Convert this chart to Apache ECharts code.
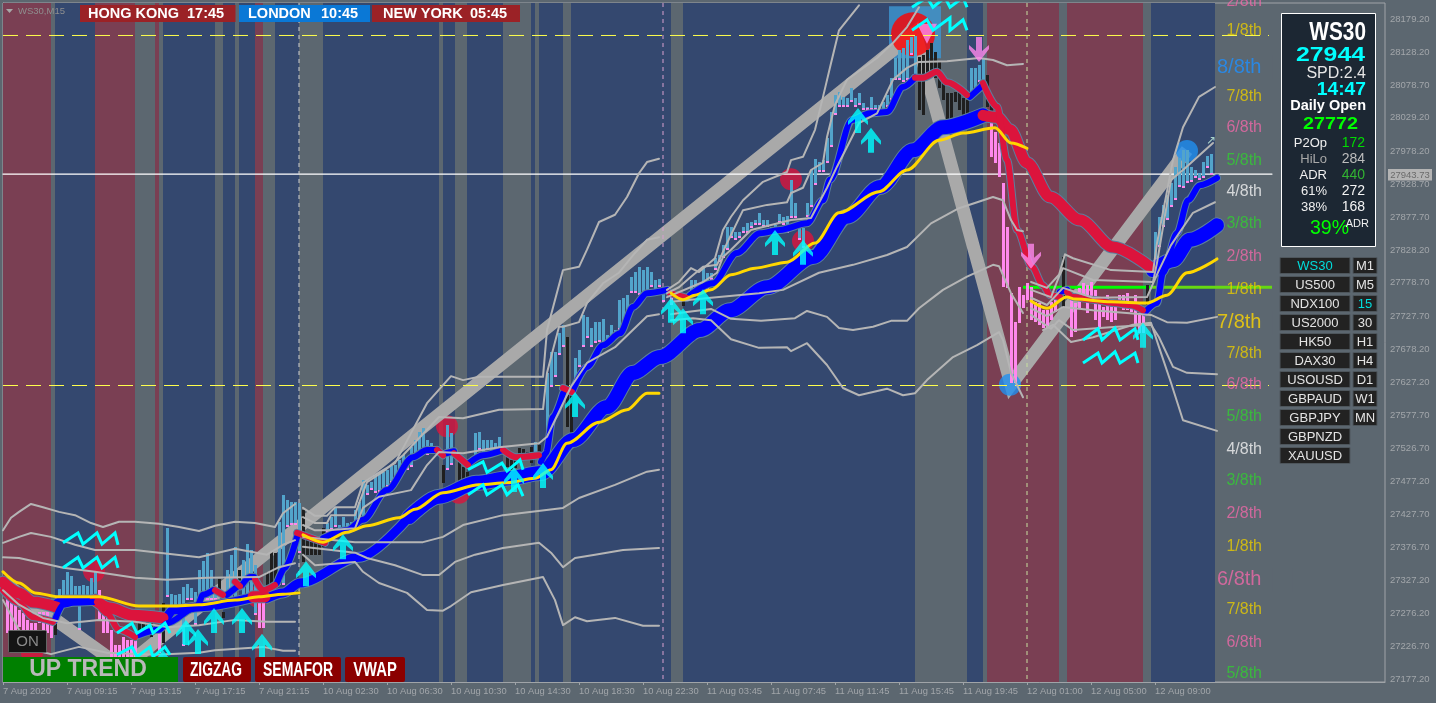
<!DOCTYPE html>
<html><head><meta charset="utf-8">
<style>html,body{margin:0;padding:0;background:#5c6770}#c{width:1436px;height:703px}</style>
<script src="https://cdn.jsdelivr.net/npm/echarts@6/dist/echarts.min.js"></script>
</head><body><div id="c"></div>
<script>
// ---------- axes ----------
const timeLabels = ['7 Aug 2020','7 Aug 09:15','7 Aug 13:15','7 Aug 17:15','7 Aug 21:15','10 Aug 02:30','10 Aug 06:30','10 Aug 10:30','10 Aug 14:30','10 Aug 18:30','10 Aug 22:30','11 Aug 03:45','11 Aug 07:45','11 Aug 11:45','11 Aug 15:45','11 Aug 19:45','12 Aug 01:00','12 Aug 05:00','12 Aug 09:00'];
const timeBars = [0,16,32,48,64,80,96,112,128,144,160,176,192,208,224,240,256,272,288];
const priceTicks = [28179.2,28128.2,28078.7,28029.2,27978.2,27928.7,27877.7,27828.2,27778.7,27727.7,27678.2,27627.2,27577.7,27526.7,27477.2,27427.7,27376.7,27327.2,27276.2,27226.7,27177.2];
const priceTop = 28203.5, priceBottom = 27172.7, lastBar = 345.5, dayEnd = 317.25;
// ---------- session bands: [first bar, last bar] ----------
const navyBands = [[0,303]];
const grayBands = [[12,13],[33,38],[39,40],[53,55],[58,59],[65,68],[74,80],[109,110],[113,116],[125,132],[133,134],[140,142],[167,170],[228,241],[245,246],[264,266],[285,287]];
const maroonBands = [[0,12],[23,33],[38,39],[63,65],[246,264],[266,285]];
const sessionMarks = [74,165,256];
// ---------- price levels ----------
const lastPrice = 27943.73, dailyOpen = 27772, rangeHigh = 28154.2, rangeLow = 27622.8;
// ---------- zigzag ----------
const zigzagLine = [[0,27324],[30,27194],[228,28159],[252,27624],[296,27980]];
// ---------- histogram candles: [bar, top, bottom] ----------
const blueBars = [[14,27314,27300],[15,27328,27300],[16,27340,27300],[17,27334,27300],[18,27318,27300],[19,27318,27252],[20,27320,27300],[21,27318,27300],[22,27331,27300],[23,27341,27300],
[41,27406,27302],[42,27306,27262],[43,27305,27279],[44,27306,27279],[45,27317,27227],[46,27321,27297],[47,27315,27297],[48,27309,27259],[49,27343,27297],[50,27356,27297],[51,27369,27297],[52,27343,27297],[53,27315,27297],[56,27343,27297],[57,27366,27297],[58,27378,27297],[60,27358,27297],[61,27382,27297],[62,27373,27297],[63,27350,27274],
[69,27416,27320],[70,27457,27320],[71,27449,27408],[72,27446,27411],[73,27446,27411],[74,27444,27369],
[81,27414,27399],[82,27423,27403],[83,27437,27408],[84,27411,27403],[85,27423,27400],[86,27414,27400],[87,27416,27403],[88,27434,27403],[89,27446,27414],[90,27479,27419],[91,27472,27457],[92,27476,27464],[93,27487,27460],[94,27490,27461],[95,27492,27464],[96,27495,27469],[97,27501,27475],[98,27502,27479],[99,27510,27487],[100,27517,27490],[101,27514,27495],[102,27529,27499],[103,27540,27510],[104,27552,27514],[105,27558,27520],[106,27540,27517],[107,27535,27525],[108,27529,27522],
[111,27563,27495],[112,27551,27502],[117,27514,27502],[118,27551,27514],[119,27552,27525],[120,27540,27517],[121,27540,27525],[122,27540,27517],[123,27535,27517],[124,27545,27525],[133,27537,27517],
[136,27642,27535],[137,27674,27621],[138,27674,27636],[139,27703,27669],[140,27715,27681],[143,27665,27616],[144,27677,27651],[145,27730,27681],[146,27727,27695],[147,27710,27681],[148,27719,27687],[149,27719,27689],[150,27724,27687],[151,27699,27687],[152,27715,27697],[153,27707,27697],[154,27753,27707],[155,27756,27712],[156,27760,27718],[157,27788,27763],[158,27795,27763],[159,27803,27760],[160,27798,27760],[161,27803,27757],[162,27795,27772],[163,27783,27763],[164,27784,27772],[165,27765,27750],
[172,27783,27763],[173,27783,27768],[175,27803,27772],[176,27794,27768],[177,27794,27783],[178,27816,27798],[179,27821,27810],[180,27836,27816],[181,27863,27829],[182,27863,27847],[183,27856,27844],[184,27856,27847],[185,27863,27854],[186,27869,27854],[187,27871,27862],[188,27874,27866],[189,27885,27866],[190,27874,27863],[191,27874,27863],[192,27863,27856],[193,27866,27859],[194,27883,27869],[195,27879,27866],[196,27880,27854],[197,27935,27877],[198,27900,27877],[199,27866,27844],[200,27862,27832],[201,27900,27879],[202,27950,27894],[203,27967,27927],[204,27962,27947],[205,27965,27947],[206,27999,27961],[207,28038,27985],[208,28064,28033],[209,28068,28046],[210,28061,28046],[211,28059,28046],[212,28074,28053],[213,28059,28046],[214,28067,28049],[215,28052,28041],[216,28046,28041],[217,28061,28041],[218,28049,28041],[219,28049,28038],[220,28053,28038],[221,28064,28046],[222,28090,28056],[223,28120,28087],[224,28132,28087],[225,28135,28084],[226,28147,28087],[227,28152,28125],[228,28153,28091],
[242,28105,28061],[243,28105,28071],[244,28109,28084],[245,28120,28076],
[288,27856,27813],[289,27879,27833],[290,27897,27863],[291,27912,27874],[292,27930,27894],[293,27955,27904],[294,27968,27924],[295,27980,27923],[296,27980,27930],[297,27955,27932],[298,27950,27938],[299,27945,27935],[300,27962,27938],[301,27971,27953],[302,27974,27942]];
const blackBars = [[13,27279,27244],[34,27264,27249],[35,27261,27249],[36,27264,27246],[37,27262,27241],[38,27258,27249],[40,27293,27232],[54,27329,27308],[55,27279,27270],[59,27343,27317],[66,27340,27312],[67,27370,27317],[68,27369,27323],
[75,27434,27355],[76,27399,27366],[77,27385,27366],[78,27384,27366],[79,27384,27366],[80,27406,27378],[110,27502,27475],[114,27507,27475],[115,27499,27475],[116,27492,27475],[126,27514,27499],[127,27510,27495],[128,27510,27497],[129,27528,27510],[130,27527,27517],[131,27522,27513],[132,27529,27505],[134,27532,27505],[141,27696,27560],[142,27621,27548],[170,27756,27744],
[229,28121,28041],[230,28125,28033],[231,28132,28094],[232,28143,28099],[233,28129,28090],[234,28114,28074],[235,28082,28056],[236,28067,28026],[237,28067,28026],[238,28068,28053],[239,28076,28041],[240,28059,28030],[241,28056,28030],[246,28094,28046],[247,28052,28021],[265,27818,27740],[286,27775,27734]];
const pinkBars = [[1,27300,27247],[2,27293,27241],[3,27293,27252],[4,27282,27256],[5,27277,27247],[6,27267,27229],[7,27262,27236],[8,27262,27241],[9,27279,27262],[10,27279,27252],[11,27279,27247],[12,27267,27240],
[24,27312,27267],[25,27282,27247],[26,27277,27247],[27,27252,27199],[28,27229,27199],[29,27229,27199],[30,27241,27199],[31,27236,27199],[32,27236,27199],[33,27236,27199],[39,27247,27217],[64,27293,27255],[65,27293,27255],[167,27759,27745],
[247,28023,27970],[248,28008,27961],[249,27991,27939],[250,27930,27772],[251,27863,27771],[252,27763,27627],[253,27719,27627],[254,27772,27718],[255,27760,27740],[256,27778,27753],[257,27772,27722],[258,27750,27719],[259,27748,27715],[260,27737,27710],[261,27737,27710],[262,27750,27722],[263,27760,27734],
[267,27757,27696],[268,27748,27704],[269,27771,27740],[270,27778,27753],[271,27775,27733],[272,27780,27748],[273,27768,27722],[274,27756,27712],[275,27742,27727],[276,27760,27722],[277,27745,27719],[278,27750,27722],[279,27760,27745],[280,27760,27737],[281,27763,27737],[282,27745,27734],[283,27760,27715],[284,27733,27703],[285,27733,27703]];
// ---------- fast ribbon ----------
const fastBlue = [
[[13,27267],[15,27290],[17.5,27293],[22.5,27294]],
[[34,27244],[39,27252],[41,27262],[48.5,27287],[50,27305],[52.5,27312]],
[[56,27305],[58.5,27317]],[[59.75,27320],[61.75,27332],[62.75,27332]],
[[68.5,27323],[70.5,27346],[73.5,27393]],
[[80,27391],[86,27403],[90,27419],[96,27464],[102.5,27514],[106,27525],[108.5,27525]],
[[110.75,27520],[112.75,27523]],[[116.5,27505],[120,27517],[125,27525]],
[[134.5,27507],[135.75,27520],[137.5,27575],[140,27611]],
[[142.5,27616],[146,27651],[150,27684],[154.25,27702],[157.5,27742],[161,27763],[166,27768]],
[[171.75,27760],[177.5,27778],[183.5,27824],[189.25,27854],[194.25,27859],[201,27869],[205,27904],[206.75,27935],[212.25,28026],[216.75,28036],[221,28038],[225,28076],[228,28090]],
[[241.75,28061],[245,28079]],[[264.25,27765],[266,27768]],
[[285.5,27734],[288.5,27748],[290,27794],[293.5,27854],[296.25,27904],[299.25,27927],[303.5,27938]]];
const fastRed = [
[[0,27312],[4,27293],[7.5,27271],[12.5,27264]],
[[23.5,27294],[26,27277],[29,27252],[33,27241]],
[[53,27312],[55,27305]],[[58,27325],[59.25,27318]],
[[63,27329],[65,27312],[68,27320]],
[[73.5,27399],[80.5,27384]],
[[108.5,27525],[110,27517]],[[112.75,27520],[116.25,27502]],
[[125,27525],[128.25,27514],[134,27517]],[[140,27619],[142.25,27613]],
[[166.75,27763],[171,27756]],
[[228,28090],[230,28090],[233.5,28099],[236,28083],[241,28064]],
[[245,28082],[248.5,28046],[251,27965],[253.5,27859],[257.25,27803],[260,27775],[261.75,27760],[264.25,27757]],
[[266,27765],[267.5,27757],[272.5,27753],[277.5,27748],[281.75,27745],[285,27737]]];
// ---------- slow ribbon ----------
const slowBlueThin = [[[13.5,27292],[15.5,27297],[22.5,27297]],[[41,27271],[42.5,27282],[49.25,27287],[61.75,27300]],
[[66,27300],[70,27308],[74.25,27323],[89,27362],[101.5,27423]]];
const slowBlue = [
[[101.5,27423],[109,27454],[118.25,27475],[126.5,27482],[134.5,27490],[142.5,27540],[151,27590],[157.5,27642],[164.25,27666],[174.25,27707],[181.75,27737],[191,27772],[202.5,27818],[211,27879],[219.25,27924],[227.5,27980],[235,28015],[245,28033]],
[[287.5,27798],[292.5,27813],[296.75,27844],[303.5,27866]]];
const slowRed = [
[[0,27324],[4,27308],[7.5,27294],[13.5,27286]],
[[23,27297],[26.75,27285],[32.5,27274],[40,27270]],
[[62.5,27302],[65.5,27302]],
[[245,28033],[248.5,28030],[251.75,28011],[256,27961],[261.75,27909],[269.25,27874],[277.5,27833],[286.75,27803]]];
// ---------- vwap (yellow) ----------
const vwap = [
[[0,27340],[4,27323],[8,27308],[14,27302],[24,27302],[34,27288],[42,27288],[49,27290],[58,27297],[64,27302],[70,27306],[74,27308]],
[[75,27396],[80,27385],[86,27400],[91,27410],[99,27422],[103,27435],[110,27460],[119,27472],[126,27475],[133,27482],[137,27495],[141,27535],[149,27567],[156,27586],[161,27611],[164,27611]],
[[167,27763],[170,27753],[173,27760],[177,27768],[182,27791],[188,27801],[196,27810],[203,27839],[209,27885],[219,27917],[226,27950],[234,27995],[240,28006],[248,28014],[252,27991],[256,27983]],
[[257,27751],[261,27740],[266,27757],[268,27754],[277,27750],[286,27748],[291,27760],[296,27794],[303.5,27815]]];
// ---------- vwap deviation bands (gray) ----------
const bandLines = [
[[0,27403],[2,27422],[4,27431],[7,27443],[10,27438],[14,27431],[18,27426],[22,27414],[25,27408],[29,27416],[33,27416],[39,27413],[44,27408],[49,27402],[53,27410],[58,27416],[63,27414],[68,27408],[70,27429],[73,27443]],
[[0,27384],[4,27393],[7,27399],[12,27393],[18,27381],[23,27373],[33,27373],[39,27369],[49,27362],[58,27375],[66,27366],[70,27381],[73,27388]],
[[0,27362],[4,27361],[10,27353],[15,27346],[23,27340],[33,27331],[41,27328],[51,27331],[64,27332],[69,27347],[73,27353]],
[[0,27312],[4,27290],[10,27270],[16,27262],[24,27267],[33,27264],[41,27256],[49,27259],[58,27267],[66,27264],[73,27264]],
[[0,27297],[4,27252],[8,27221],[12,27215],[19,27226],[26,27217],[38,27214],[49,27217],[53,27221],[65,27226],[70,27220],[73,27220]],
[[75,27437],[78,27425],[81,27425],[83,27438],[88,27438],[90,27475],[93,27487],[98,27505],[106,27596],[112,27637],[115,27631],[119,27636],[135,27636],[136,27707],[140,27798],[144,27803],[146,27829],[149,27871],[153,27882],[156,27909],[159,27945],[161,27962],[164,27967]],
[[75,27423],[78,27414],[81,27414],[82,27426],[88,27426],[89,27444],[91,27476],[95,27492],[100,27517],[109,27575],[115,27573],[124,27586],[135,27587],[136,27642],[139,27712],[140,27712],[144,27719],[146,27748],[150,27778],[154,27794],[158,27824],[161,27844],[164,27848]],
[[75,27411],[78,27403],[81,27403],[88,27406],[90,27437],[94,27454],[102,27464],[106,27502],[109,27522],[115,27520],[124,27529],[134,27535],[136,27545],[142,27621],[146,27657],[153,27681],[161,27728],[164,27731]],
[[75,27393],[88,27385],[105,27385],[110,27393],[115,27411],[125,27426],[140,27437],[144,27452],[153,27472],[161,27492],[164,27495]],
[[75,27378],[88,27369],[91,27361],[98,27350],[105,27335],[109,27335],[113,27355],[118,27366],[125,27376],[134,27384],[137,27369],[140,27347],[143,27361],[148,27366],[155,27373],[164,27376]],
[[75,27366],[78,27350],[88,27355],[90,27340],[94,27323],[101,27308],[106,27282],[110,27281],[112,27288],[117,27309],[125,27320],[135,27332],[138,27297],[140,27259],[143,27271],[146,27265],[153,27270],[160,27258],[164,27258]],
[[166,27768],[169,27780],[172,27801],[174,27795],[178,27816],[180,27859],[182,27879],[185,27904],[190,27932],[196,27947],[197,27965],[200,27970],[203,28011],[205,28061],[207,28112],[209,28162],[214,28200]],
[[166,27763],[169,27772],[172,27788],[175,27803],[178.5,27806],[181,27839],[185,27889],[191,27897],[196,27901],[197,27915],[200,27923],[202,27950],[205,27961],[206,28000],[208,28049],[211,28087],[218.5,28120],[222.5,28143],[226,28167],[229,28197]],
[[166,27757],[175,27780],[178.5,27794],[180,27818],[182,27829],[187,27859],[197,27874],[202,27877],[206,27923],[208.5,27955],[211,27985],[214,28021],[218.5,28036],[222.5,28087],[226,28105],[229,28114],[236,28115],[244,28120],[247.5,28117],[251,28109],[255,28111]],
[[167,27750],[177,27756],[189,27763],[195,27768],[204,27794],[212.5,27806],[221,27821],[226,27833],[232,27869],[239,27892],[247.5,27909],[250,27904],[252,27874],[253.5,27859],[255,27857]],
[[167,27731],[170.5,27734],[177,27739],[182,27724],[189.5,27721],[198,27725],[201,27736],[206,27727],[209,27710],[212.5,27707],[217.5,27712],[222,27721],[226,27721],[229,27740],[235,27768],[241,27788],[247.5,27806],[249,27804],[252,27763],[255,27733]],
[[167,27722],[172.5,27725],[177,27722],[182,27693],[189,27680],[196,27681],[197,27675],[201,27687],[206,27654],[210,27619],[214,27608],[221,27618],[225,27608],[228,27611],[231,27631],[237.5,27666],[243.5,27684],[249,27704],[250,27692],[252,27642],[255,27605]],
[[257,27780],[261,27771],[264,27791],[265.5,27822],[267.5,27816],[277,27798],[287.5,27795],[288.5,27839],[292.5,27965],[295,28015],[299,28061],[303,28076]],
[[257,27768],[262,27757],[264,27788],[265,27801],[272.5,27783],[287.5,27780],[288.5,27809],[292,27935],[295,27950],[302.5,27991]],
[[257,27756],[261,27745],[265,27771],[272.5,27756],[286,27757],[289,27798],[292,27836],[294,27854],[297.5,27885],[303,27901]],
[[257,27740],[261,27728],[265,27742],[272.5,27737],[287,27730],[291,27719],[296,27718],[303.5,27727]],
[[257,27730],[262,27709],[264,27722],[267.5,27707],[278.5,27712],[287,27715],[289,27696],[292.5,27651],[296,27642],[303.5,27640]],
[[260,27707],[262.5,27715],[267,27689],[272.5,27696],[282.5,27715],[287,27718],[289,27681],[292,27627],[295,27570],[303.5,27554]]];
// ---------- markers ----------
const buyArrows = [[45.75,27267],[48.75,27253],[52.75,27285],[59.75,27285],[64.75,27246],[75.75,27356],[85,27397],[40,27221],[127.75,27499],[135,27505],[143,27613],[167,27756],[170,27740],[175,27769],[193,27859],[200,27844],[213.75,28044],[217,28014],[285,27718]];
const sellArrows = [[244,28114],[257,27800]];
const redDots = [[22.75,27341],[111,27561],[114,27460],[197,27936],[200,27842],[63.75,27302],[7.25,27217]];
const blueDots = [[251.75,27624],[296,27979]];
const signalBox = [[228,28159]];
const signalDot = [[227.5,28156]];
const signalTip = [[231,28157]];
const zigPatterns = [
[[15,27384],[18.75,27399],[20,27382],[23.5,27399],[24.75,27382],[28,27399],[28.75,27381]],
[[15,27346],[18.75,27362],[20,27346],[23.5,27362],[24.75,27346],[28,27362],[28.75,27346]],
[[28.5,27247],[32.25,27262],[33.5,27247],[36.75,27259],[37.5,27247],[40.5,27262],[41.75,27247]],
[[28.5,27214],[32.25,27226],[33.5,27211],[36.75,27226],[37.5,27211],[40.5,27226],[41.75,27214]],
[[116.25,27495],[120,27507],[121,27491],[124.75,27505],[126,27493],[129.25,27510],[130,27495]],
[[116.25,27457],[120,27472],[121,27457],[124.75,27472],[126,27457],[128.75,27472],[130,27455]],
[[227.25,28162],[231,28178],[232.5,28162],[236.75,28181],[236.75,28162],[240,28178],[241,28162]],
[[227.25,28197],[231,28212],[232.5,28197],[235.5,28212],[236.75,28197],[240,28212],[241,28197]],
[[270,27692],[273.75,27709],[274.75,27692],[278,27710],[279.25,27692],[283,27709],[283.75,27692]],
[[270,27657],[273.75,27672],[274.75,27657],[278,27674],[279.25,27657],[283,27672],[283.75,27657]]];
// ---------- murrey math labels ----------
const fibText = ['2/8th','1/8th','7/8th','6/8th','5/8th','4/8th','3/8th','2/8th','1/8th','7/8th','6/8th','5/8th','4/8th','3/8th','2/8th','1/8th','7/8th','6/8th','5/8th'];
const fibPrice = [28205,28161,28062,28014,27965,27917,27868,27819,27769,27672,27624,27575,27526,27478,27428,27379,27282,27233,27185];
const fibBigText = ['8/8th  2','7/8th  2','6/8th  2'];
const fibBigPrice = [28106,27718,27328];
// ---------- panel text ----------
const symbolsList = ['WS30','US500','NDX100','US2000','HK50','DAX30','USOUSD','GBPAUD','GBPJPY','GBPNZD','XAUUSD'];
const timeframes = ['M1','M5','15','30','H1','H4','D1','W1','MN'];
const statNames = ['P2Op','HiLo','ADR','61%','38%'];
const statValues = ['172','284','440','272','168'];

const FONT='"Liberation Sans"';
const fibColor = t => t[0]==='8'?'#1e90ff':(t[0]==='7'||t[0]==='1')?'#e8cc00':(t[0]==='6'||t[0]==='2')?'#ee69a8':(t[0]==='5'||t[0]==='3')?'#32cd32':'#f2f2f2';
const series=[];
function bandSeries(bands,color,z){series.push({type:'custom',z,silent:true,data:bands,encode:{x:[0,1],y:[]},clip:true,renderItem:(p,api)=>{
  const a=api.coord([api.value(0),priceTop]),b=api.coord([api.value(1),priceBottom]);
  return {type:'rect',shape:{x:a[0],y:a[1],width:b[0]-a[0],height:b[1]-a[1]},style:{fill:color}};}});}
bandSeries(navyBands,'#34486f',1);bandSeries(grayBands,'#5c6770',1.1);bandSeries(maroonBands,'#7a3f53',1.2);
function line(data,color,width,z,extra,smooth){series.push(Object.assign({type:'line',data,symbol:'none',z,silent:true,clip:true,smooth:smooth||false,smoothMonotone:smooth?'x':undefined,
  lineStyle:Object.assign({color,width,cap:'round',join:'round'},extra||{})}));}
function pts(items,symbol,size,color,z,extra){series.push(Object.assign({type:'scatter',data:items,symbol,symbolSize:size,z,silent:true,clip:true,itemStyle:{color}},extra||{}));}
pts(signalBox,'rect',52,'#3d97d3',2);
pts(redDots,'circle',22,'#dc143c',2.1);
line(zigzagLine,'#a9a9a9',13,2.2,{cap:'butt',join:'miter'});
pts(signalDot,'circle',44,'#ff0000',2.3);
pts(blueDots,'circle',22,'#2090f0',2.3);
pts(signalTip,'triangle',20,'#ff88ee',2.4,{symbolRotate:180});
line([[0,lastPrice],[dayEnd,lastPrice]],'#ffffff',1.2,2.6);
line([[0,rangeHigh],[316.5,rangeHigh]],'#ffff4d',1,2.6,{type:[15,8],cap:'butt'});
line([[0,rangeLow],[316.5,rangeLow]],'#ffff4d',1,2.6,{type:[15,8],cap:'butt'});
line([[255,dailyOpen],[287,dailyOpen]],'#00ff00',3,2.6,{cap:'butt'});
line([[287,dailyOpen],[dayEnd,dailyOpen]],'#66d812',3,2.6,{cap:'butt'});
['#d0d0d0','#d8a0d0','#c8e0a0'].forEach((c,k)=>line([[sessionMarks[k],priceTop],[sessionMarks[k],priceBottom]],c,1,2.7,{type:[4,4],cap:'butt'}));
function barSeries(data,color,tick,z){series.push({type:'custom',z,silent:true,clip:true,data,encode:{x:0,y:[1,2]},renderItem:(p,api)=>{
  const a=api.coord([api.value(0),api.value(1)]),b=api.coord([api.value(0),api.value(2)]);
  const top=Math.round(a[1]),bot=Math.round(b[1]);
  const ch=[{type:'rect',shape:{x:Math.round(a[0])-1,y:top,width:3,height:Math.max(bot-top,1)},style:{fill:color}}];
  if(tick)ch.push({type:'rect',shape:{x:Math.round(a[0])-1,y:bot-2,width:3,height:2},style:{fill:tick}});
  return {type:'group',children:ch};}});}
barSeries(blueBars,'#52a4cb','#ff88ee',3);
barSeries(blackBars,'#1f1f1f',null,3);
barSeries(pinkBars,'#ff88ee',null,3);
const ribbons=[[slowBlueThin,'#0000ff',9],[slowBlue,'#0000ff',14],[slowRed,'#dc143c',11],[fastBlue,'#0000ff',6],[fastRed,'#dc143c',6]];
ribbons.forEach(r=>r[0].forEach(s=>line(s,'#5b7f9f',r[2]+2,4,null,0.3)));
ribbons.forEach(r=>r[0].forEach(s=>line(s,r[1],r[2],4.5,null,0.3)));
bandLines.forEach(l=>line(l,'#b5b5b5',2,5));
vwap.forEach(l=>line(l,'#ffd700',3,5.5,null,0.3));
zigPatterns.forEach(l=>line(l,'#00ffff',3,6,{cap:'butt',join:'miter'}));
const upPath='path://M10 0L20 13L20 17L13 11L13 25L7 25L7 11L0 17L0 13Z';
pts(buyArrows,upPath,[20,25],'#00ffff',7,{symbolOffset:[0,'50%']});
pts(sellArrows,upPath,[20,25],'#ff88ee',7,{symbolRotate:180,symbolOffset:[0,'-50%']});
series.push({type:'scatter',z:8,silent:true,symbolSize:0,clip:false,
 data:fibPrice.map((p,i)=>({value:[314.75,p],label:{show:true,position:'left',distance:0,formatter:fibText[i],color:fibColor(fibText[i]),fontSize:16,fontFamily:FONT}}))});
series.push({type:'scatter',z:8,silent:true,symbolSize:0,clip:false,
 data:fibBigPrice.map((p,i)=>({value:[303.5,p],label:{show:true,position:'right',distance:0,formatter:fibBigText[i],color:fibBigText[i][0]==='7'?'#ffd700':fibColor(fibBigText[i]),fontSize:20,fontFamily:FONT}}))});

// ---------- overlay panels ----------
const g=[];
const rect=(x,y,w,h,fill,stroke,r)=>g.push({type:'rect',z:100,silent:true,shape:{x,y,width:w,height:h,r:r||0},style:{fill,stroke:stroke||null,lineWidth:stroke?1:0}});
const text=(t,x,y,font,fill,align,sx)=>g.push({type:'text',z:101,silent:true,x,y,scaleX:sx||1,style:{text:t,font:font+' '+FONT,fill,align:align||'left',textAlign:align||'left',verticalAlign:'middle',textVerticalAlign:'middle'}});
rect(1272.5,55,8.5,24,'#5c6770');rect(1272.5,311,8.5,24,'#5c6770');rect(1272.5,568,20,24,'#5c6770');
rect(80,5,155.5,17,'#9b2226');rect(239,5,131,17,'#0a78d6');rect(372,5,148,17,'#9b2226');
text('HONG KONG',88,13.5,'bold 14.5px','#fff');text('17:45',187,13.5,'bold 14.5px','#fff');
text('LONDON',248,13.5,'bold 14.5px','#fff');text('10:45',321,13.5,'bold 14.5px','#fff');
text('NEW YORK',383,13.5,'bold 14.5px','#fff');text('05:45',470,13.5,'bold 14.5px','#fff');
g.push({type:'polygon',z:101,silent:true,shape:{points:[[6,9],[13,9],[9.5,13]]},style:{fill:'#a8a8a8'}});
text('WS30,M15',18,11,'9.5px','#8f8f8f');
rect(8.5,630.5,38,22,'#141414','#666666',1);text('ON',27.5,642,'15px','#8a8a8a','center');
rect(3,657,175,25,'#008000');text('UP TREND',88,670,'bold 23px','#b9b9b9','center');
rect(183,657,68,25,'#8b0000',null,2);text('ZIGZAG',216,670,'bold 20px','#fff','center',.69);
rect(255,657,86,25,'#8b0000',null,2);text('SEMAFOR',298,670,'bold 20px','#fff','center',.7);
rect(345,657,60,25,'#8b0000',null,2);text('VWAP',375,670,'bold 20px','#fff','center',.74);
rect(1281.5,13.5,94,233,'#1c2733','#ffffff');
text('WS30',1366,33,'bold 26px','#fff','right',.8);
text('27944',1365,55.5,'bold 20px','#00ffff','right',1.24);
text('SPD:2.4',1366,73.5,'16px','#e6e6e6','right');
text('14:47',1366,90.5,'bold 18px','#00ffff','right',1.07);
text('Daily Open',1366,105.5,'bold 14.5px','#fff','right');
text('27772',1358,124.5,'bold 16.5px','#00ff00','right',1.2);
const rowY=[143.5,159.5,175.5,191.5,207.5];
const nameCol=['#f0f0f0','#a9a9a9','#f0f0f0','#f0f0f0','#f0f0f0'];
const valCol=['#00dd00','#bdbdbd','#32b432','#f4f4f4','#f4f4f4'];
statNames.forEach((n,i)=>{text(n,1327,rowY[i],'13px',nameCol[i],'right');text(statValues[i],1365,rowY[i],'14px',valCol[i],'right');});
text('39%',1349,228.5,'19.5px','#00ff00','right');
text('ADR',1369,224,'11px','#f0f0f0','right');
symbolsList.forEach((s,i)=>{const y=257.5+19*i;rect(1280,y,70,16,'#222222','#4e565c');text(s,1315,y+8.5,'13px',i===0?'#00dcdc':'#e4e4e4','center');});
timeframes.forEach((s,i)=>{const y=257.5+19*i;rect(1353,y,24,16,'#222222','#4e565c');text(s,1365,y+8.5,'13px',s==='15'?'#00dcdc':'#e4e4e4','center');});
rect(1388,169,44,11.5,'#b4b4b4');text('27943.73',1410,175,'9.5px','#6a6a6a','center');
text('↗',1206,141,'12px','#a7d0c8');

const chart=echarts.init(document.getElementById('c'),null,{renderer:'canvas'});
chart.setOption({animation:false,backgroundColor:'#5c6770',
 grid:{left:3,right:51,top:3,bottom:21,show:true,borderColor:'#a0a4a8',borderWidth:1,backgroundColor:'transparent',containLabel:false},
 xAxis:{type:'value',min:0,max:lastBar,splitLine:{show:false},
  axisLine:{show:true,lineStyle:{color:'#a0a4a8'}},
  axisTick:{show:true,customValues:timeBars,length:3,lineStyle:{color:'#a0a4a8'}},
  axisLabel:{show:true,customValues:timeBars,align:'left',margin:5,color:'#a2a6aa',fontSize:9.4,fontFamily:FONT,hideOverlap:false,
   formatter:v=>timeLabels[timeBars.indexOf(v)]||''}},
 yAxis:{type:'value',position:'right',min:priceBottom,max:priceTop,splitLine:{show:false},
  axisLine:{show:true,lineStyle:{color:'#a0a4a8'}},
  axisTick:{show:true,customValues:priceTicks,length:3,lineStyle:{color:'#a0a4a8'}},
  axisLabel:{show:true,customValues:priceTicks,margin:5,color:'#a2a6aa',fontSize:9.5,fontFamily:FONT,formatter:v=>v.toFixed(2)}},
 series,graphic:{elements:g}});
</script></body></html>
